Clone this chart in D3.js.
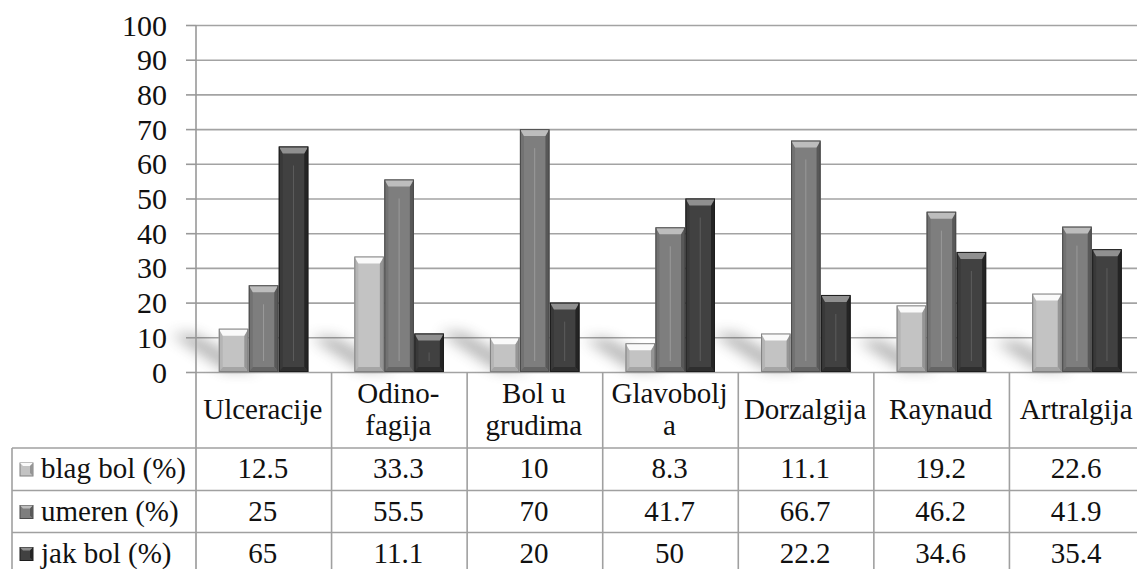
<!DOCTYPE html>
<html><head><meta charset="utf-8">
<script src="https://cdn.jsdelivr.net/npm/d3@7"></script>
<style>
body{margin:0;background:#fff;font-family:"Liberation Serif",serif}
svg{display:block}
</style>
</head><body>
<svg id="c" width="1137" height="569" font-family="Liberation Serif"></svg>
<script>
const categories = ["Ulceracije","Odino-\nfagija","Bol u\ngrudima","Glavobolj\na","Dorzalgija","Raynaud","Artralgija"];
const seriesNames = ["blag bol (%)","umeren (%)","jak bol (%)"];
const blag = [12.5,33.3,10,8.3,11.1,19.2,22.6];
const umeren = [25,55.5,70,41.7,66.7,46.2,41.9];
const jak = [65,11.1,20,50,22.2,34.6,35.4];
const yTicks = [0,10,20,30,40,50,60,70,80,90,100];
const seriesValues = [blag, umeren, jak];

const palettes = [
  {face:"#c3c3c3", top:"#fafafa", left:"#b5b5b5", right:"#959595", bottom:"#a5a5a5", line:"#808080", inner:null},
  {face:"#7e7e7e", top:"#bdbdbd", left:"#727272", right:"#585858", bottom:"#656565", line:"#4a4a4a", inner:"#9a9a9a"},
  {face:"#414141", top:"#909090", left:"#393939", right:"#242424", bottom:"#2e2e2e", line:"#1c1c1c", inner:"#5c5c5c"}
];

const svg = d3.select("#c");
const W = 1137;
const FS = 29, FONT = '"Liberation Serif", "Times New Roman", serif';
const left = 196, plotTop = 25, base = 372;

const x = d3.scaleBand().domain(d3.range(categories.length)).range([left, 1145]).paddingInner(0).paddingOuter(0);
const y = d3.scaleLinear().domain([0,100]).range([base, plotTop]);
const groupW = 90;
const x1 = d3.scaleBand().domain(d3.range(3)).range([0, groupW]).padding(0);

const defs = svg.append("defs");
defs.append("filter").attr("id","blur").attr("x","-50%").attr("y","-50%").attr("width","200%").attr("height","200%")
  .append("feGaussianBlur").attr("stdDeviation", 7);

function txt(g, s, tx, ty, anchor) {
  return g.append("text").attr("x", tx).attr("y", ty)
    .attr("text-anchor", anchor || "middle").attr("font-family", "Liberation Serif").style("font-family", FONT).attr("font-size", FS)
    .attr("fill", "#111").text(s);
}

// gridlines
const grid = svg.append("g").attr("transform", `translate(${left},0)`)
  .call(d3.axisLeft(y).tickValues(yTicks).tickSize(-(W - left)).tickFormat(""));
grid.select(".domain").remove();
grid.selectAll("line").attr("stroke", "#a3a3a3").attr("stroke-width", 1.6);

// shadows behind bars
const shadows = svg.append("g").attr("filter","url(#blur)").attr("opacity",0.45);
categories.forEach((c, i) => {
  const gx = x(i) + (x.bandwidth() - groupW) / 2;
  const hMax = d3.max(seriesValues, s => s[i]);
  const len = Math.min(60, 25 + hMax * 0.45);
  shadows.append("path")
    .attr("d", `M${gx+6},${base-2} L${gx+40},${base-2} L${gx+30-len},${base-len*0.7} L${gx+6-len},${base-len*0.7} Z`)
    .attr("fill", "#5a5a5a");
});

// bars
function bevelBar(g, bx, by, bw, bh, p) {
  const t = Math.min(7, bh / 2), s = 4, b = Math.min(5, bh / 2);
  g.append("rect").attr("x", bx).attr("y", by).attr("width", bw).attr("height", bh).attr("fill", p.face);
  g.append("path").attr("d", `M${bx},${by} L${bx+s},${by+t} L${bx+s},${by+bh-b} L${bx},${by+bh} Z`).attr("fill", p.left);
  g.append("path").attr("d", `M${bx+bw},${by} L${bx+bw-s},${by+t} L${bx+bw-s},${by+bh-b} L${bx+bw},${by+bh} Z`).attr("fill", p.right);
  g.append("path").attr("d", `M${bx},${by+bh} L${bx+s},${by+bh-b} L${bx+bw-s},${by+bh-b} L${bx+bw},${by+bh} Z`).attr("fill", p.bottom);
  g.append("path").attr("d", `M${bx},${by} L${bx+bw},${by} L${bx+bw-s},${by+t} L${bx+s},${by+t} Z`).attr("fill", p.top);
  if (p.inner && bh > 30) {
    g.append("line").attr("x1", bx+bw/2).attr("x2", bx+bw/2).attr("y1", by+t+12).attr("y2", by+bh-b-6)
      .attr("stroke", p.inner).attr("stroke-width", 1);
  }
  g.append("rect").attr("x", bx+0.5).attr("y", by+0.5).attr("width", bw-1).attr("height", bh-1)
    .attr("fill", "none").attr("stroke", p.line).attr("stroke-width", 1);
}
const bars = svg.append("g");
categories.forEach((c, i) => {
  const gx = x(i) + (x.bandwidth() - groupW) / 2;
  seriesValues.forEach((s, k) => {
    const bx = gx + x1(k), bw = x1.bandwidth() - 0.5;
    bevelBar(bars, bx, y(s[i]), bw, y(0) - y(s[i]), palettes[k]);
  });
});

// y axis
const ax = svg.append("g").attr("transform", `translate(${left},0)`)
  .call(d3.axisLeft(y).tickValues(yTicks).tickSize(10).tickPadding(19));
ax.attr("font-family", "Liberation Serif").attr("font-size", null);
ax.select(".domain").attr("stroke", "#999").attr("stroke-width", 1.6).attr("d", `M0,${plotTop}V${569}`);
ax.selectAll(".tick line").attr("stroke", "#999").attr("stroke-width", 1.6);
ax.selectAll(".tick text").attr("dy", null).attr("y", 10)
   .attr("font-family", "Liberation Serif").style("font-family", FONT).attr("font-size", 30).attr("fill", "#111");

// data table
const tbl = svg.append("g");
const rowTops = [448, 490.5, 532.5, 575];
const lc = "#a0a0a0";
categories.forEach((c, i) => {
  tbl.append("line").attr("x1", x(i)+x.bandwidth()).attr("x2", x(i)+x.bandwidth())
    .attr("y1", base).attr("y2", 569).attr("stroke", lc).attr("stroke-width", 1.6);
});
tbl.append("line").attr("x1", 12).attr("x2", 12).attr("y1", rowTops[0]).attr("y2", 569).attr("stroke", lc).attr("stroke-width", 1.6);
rowTops.slice(0,3).forEach(ty => {
  tbl.append("line").attr("x1", 12).attr("x2", W).attr("y1", ty).attr("y2", ty).attr("stroke", lc).attr("stroke-width", 1.6);
});
categories.forEach((c, i) => {
  const cx = x(i) + x.bandwidth() / 2 - 1;
  const lines = c.split("\n");
  if (lines.length === 1) txt(tbl, lines[0], cx, 419);
  else { txt(tbl, lines[0], cx, 403); txt(tbl, lines[1], cx, 435); }
});
seriesNames.forEach((nm, k) => {
  const top = rowTops[k];
  const p = palettes[k];
  const ly = top + 15;
  tbl.append("rect").attr("x", 20).attr("y", ly).attr("width", 13).attr("height", 13).attr("fill", p.face).attr("stroke", p.line);
  tbl.append("path").attr("d", `M20,${ly} L33,${ly} L30,${ly+3} L23,${ly+3} Z`).attr("fill", p.top);
  tbl.append("path").attr("d", `M33,${ly} L33,${ly+13} L30,${ly+10} L30,${ly+3} Z`).attr("fill", p.right);
  txt(tbl, nm, 41, top + 30, "start");
  seriesValues[k].forEach((v, i) => {
    txt(tbl, String(v), x(i) + x.bandwidth() / 2 - 1, top + 30);
  });
});
</script>
</body></html>
